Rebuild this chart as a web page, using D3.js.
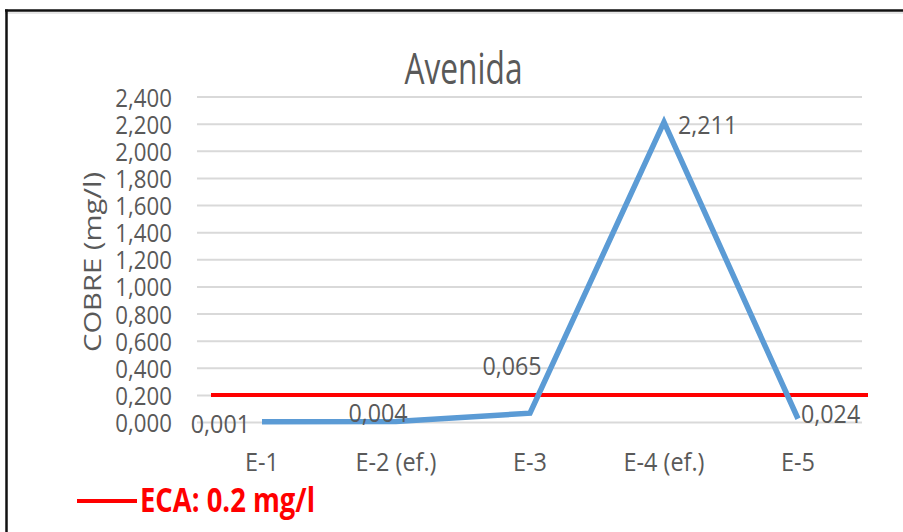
<!DOCTYPE html>
<html>
<head>
<meta charset="utf-8">
<script src="https://cdn.jsdelivr.net/npm/d3@7"></script>
<style>
  html, body { margin: 0; padding: 0; background: #fff; }
  svg { display: block; }
  text { font-family: "Open Sans", "Noto Sans", sans-serif; }
</style>
</head>
<body>
<svg id="chart" width="903" height="532"></svg>
<script>
// Copper concentration per sampling station
const categories = ["E-1", "E-2 (ef.)", "E-3", "E-4 (ef.)", "E-5"];
const cobre = [0.001, 0.004, 0.065, 2.211, 0.024];
const yTicks = [0, 0.2, 0.4, 0.6, 0.8, 1.0, 1.2, 1.4, 1.6, 1.8, 2.0, 2.2, 2.4];
const ecaLimit = 0.2;
const ecaLabel = "ECA: 0.2 mg/l";
const title = "Avenida";
const yTitle = "COBRE (mg/l)";

const W = 903, H = 532;
const plot = { left: 195, right: 865, top: 96.5, bottom: 422 };
const gray = "#595959";

const svg = d3.select("#chart");

// Narrow the glyphs horizontally (condensed look)
function squeeze(sel, f) {
  sel.each(function () {
    const len = this.getComputedTextLength();
    d3.select(this).attr("textLength", len * f).attr("lengthAdjust", "spacingAndGlyphs");
  });
}
function fit(sel, w) {
  sel.attr("textLength", w).attr("lengthAdjust", "spacingAndGlyphs");
}

const fmt = v => d3.format(".3f")(v).replace(".", ",");

const x = d3.scaleBand().domain(categories).range([plot.left, plot.right]);
const y = d3.scaleLinear().domain([0, 2.4]).range([plot.bottom, plot.top]);

// Frame
svg.append("line").attr("x1", 5).attr("x2", W).attr("y1", 13).attr("y2", 13)
  .attr("stroke", "#e6e6e6").attr("stroke-width", 2);
svg.append("line").attr("x1", 5).attr("x2", W).attr("y1", 10.5).attr("y2", 10.5)
  .attr("stroke", "#111").attr("stroke-width", 2.5);
svg.append("line").attr("x1", 6.5).attr("x2", 6.5).attr("y1", 9.5).attr("y2", H)
  .attr("stroke", "#111").attr("stroke-width", 2.5);

// Gridlines and y tick labels via axis
const yAxis = d3.axisLeft(y).tickValues(yTicks).tickSize(-(862 - 197)).tickPadding(25).tickFormat(fmt);
const gy = svg.append("g").attr("transform", "translate(197,0)").call(yAxis);
gy.select(".domain").remove();
gy.selectAll(".tick line").attr("stroke", "#d9d9d9").attr("stroke-width", 2);
gy.selectAll(".tick text")
  .attr("fill", gray).attr("font-size", 25).attr("dy", "0.38em")
  .call(squeeze, 0.89);

// X category labels via axis
const xAxis = d3.axisBottom(x).tickSize(0).tickPadding(0);
const gx = svg.append("g").attr("transform", "translate(0,462)").call(xAxis);
gx.select(".domain").remove();
gx.selectAll(".tick text")
  .attr("fill", gray).attr("font-size", 26).attr("dy", "0.36em")
  .call(squeeze, 0.9);

// Title
svg.append("text").attr("x", 463.5).attr("y", 84).attr("text-anchor", "middle")
  .attr("fill", gray).attr("font-size", 43).text(title).call(fit, 118);

// Y axis title
svg.append("text")
  .attr("transform", "translate(101,262) rotate(-90)")
  .attr("text-anchor", "middle").attr("fill", gray).attr("font-size", 24)
  .text(yTitle).call(fit, 180);

// ECA reference line
svg.append("line")
  .attr("x1", 211).attr("x2", 868)
  .attr("y1", y(ecaLimit)).attr("y2", y(ecaLimit))
  .attr("stroke", "#ff0000").attr("stroke-width", 4);

// Copper series
const cx = d => x(d) + x.bandwidth() / 2;
const line = d3.line().x((d, i) => cx(categories[i])).y(d => y(d));
svg.append("path").datum(cobre)
  .attr("d", line).attr("fill", "none")
  .attr("stroke", "#5b9bd5").attr("stroke-width", 5.5).attr("stroke-linejoin", "miter");

// Data labels
const labelPos = [
  { dx: -12, dy: 2, anchor: "end" },
  { dx: -18, dy: -9, anchor: "middle" },
  { dx: -18, dy: -48, anchor: "middle" },
  { dx: 14, dy: 2, anchor: "start" },
  { dx: 3, dy: -5, anchor: "start" }
];
svg.append("g").selectAll("text").data(cobre).join("text")
  .attr("x", (d, i) => cx(categories[i]) + labelPos[i].dx)
  .attr("y", (d, i) => y(d) + labelPos[i].dy)
  .attr("dy", "0.38em")
  .attr("text-anchor", (d, i) => labelPos[i].anchor)
  .attr("fill", gray).attr("font-size", 25)
  .text(d => fmt(d))
  .call(squeeze, 0.93);

// Legend
svg.append("line").attr("x1", 77).attr("x2", 137).attr("y1", 501).attr("y2", 501)
  .attr("stroke", "#ff0000").attr("stroke-width", 4);
svg.append("text").attr("x", 140).attr("y", 512)
  .attr("fill", "#ff0000").attr("font-weight", "bold").attr("font-size", 34)
  .text(ecaLabel).call(fit, 175);
</script>
</body>
</html>
